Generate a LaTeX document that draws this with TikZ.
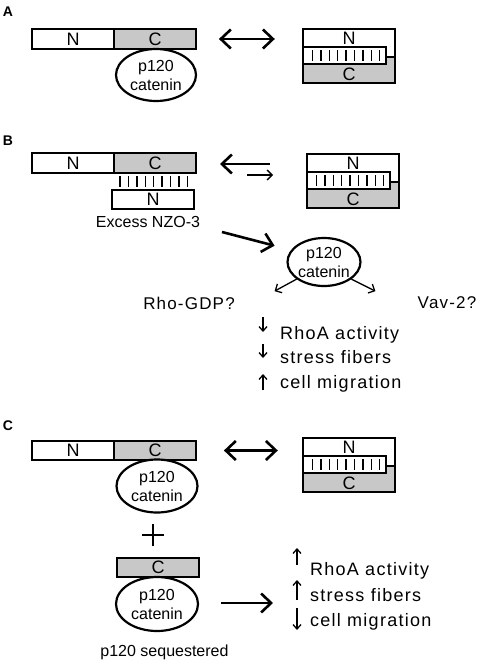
\documentclass[tikz,border=0pt]{standalone}
\usepackage{fontspec}
\setmainfont{Liberation Sans}
\newfontfamily\spaced[LetterSpace=7]{Liberation Sans}
\usetikzlibrary{arrows.meta,shapes.geometric}
\definecolor{cgray}{RGB}{200,200,200}
\newcommand\hairpin[3]{%
\begin{scope}[shift={(#1,#2)}]
 \fill[cgray] (0,35) -- (83,35) -- (83,28) -- (92,28) -- (92,54) -- (0,54) -- cycle;
 \draw[outl] (0,0) rectangle (92,54);
 \draw[outl] (0,18) rectangle (83,35);
 \draw[outl] (83,28) -- (92,28);
 \foreach \i in {0,...,8} \draw[hatch] (9.5+8.4*\i,21) -- ++(0,11);
 \node[lbl] at (46,9) {N};
 \node[lbl] at (46,45) {C};
 \node[inner sep=0pt, minimum width=92pt, minimum height=54pt] (#3) at (46,27) {};
\end{scope}}
\begin{document}
\begin{tikzpicture}[x=1pt,y=-1pt,
  outl/.style={line width=1.8pt},
  hatch/.style={line width=1.4pt},
  lbl/.style={inner sep=0pt, font=\fontsize{18}{18}\selectfont},
  box/.style={draw, line width=1.8pt, inner sep=0pt, minimum height=20pt, font=\fontsize{18}{18}\selectfont},
  wbox/.style={box, fill=white},
  gbox/.style={box, fill=cgray},
  catenin/.style={draw, ellipse, line width=2.2pt, inner sep=0pt, align=center, fill=white, font=\fontsize{16}{19}\selectfont},
  panel/.style={inner sep=0pt, font=\bfseries\fontsize{14}{14}\selectfont},
  txt/.style={inner sep=0pt, font=\fontsize{16}{19}\selectfont},
  eff/.style={inner sep=0pt, anchor=base west, font=\spaced\fontsize{18}{24}\selectfont},
  head/.style={Straight Barb[length=10pt,width=19pt,line width=2.6pt]},
  big/.style={line width=2.6pt, -{Straight Barb[length=10pt,width=19pt,line width=2.6pt]}},
  dbl/.style={line width=2.6pt, {Straight Barb[length=10pt,width=19pt,line width=2.6pt]}-{Straight Barb[length=10pt,width=19pt,line width=2.6pt]}},
  thin/.style={line width=1.3pt, -{Straight Barb[length=5pt,width=10pt,line width=1.3pt]}},
  tarr/.style={line width=1.3pt, -{Straight Barb[length=4.5pt,width=8pt,line width=1.3pt]}},
]
\useasboundingbox[fill=white] (0,0) rectangle (484,664);

% ---------- Panel A ----------
\node[panel] (labA) at (8,12) {A};
\node[wbox, minimum width=82pt] (aN) at (73,39) {N};
\node[gbox, minimum width=82pt] (aC) at (155,39) {C};
\node[catenin, minimum width=80pt, minimum height=52pt] (aP) at (156,75) {p120\\catenin};
\hairpin{303}{29}{hpA}
\draw[dbl, shorten <=22pt, shorten >=28pt] (aC.east) -- (aC.east -| hpA.west);

% ---------- Panel B ----------
\node[panel] (labB) at (8,141) {B};
\node[wbox, minimum width=82pt] (bN) at (73,163) {N};
\node[gbox, minimum width=82pt] (bC) at (155,163) {C};
\foreach \i in {0,...,8} \draw[hatch] (120+8.4*\i,176) -- ++(0,11);
\node[wbox, minimum width=82pt, minimum height=19pt] (bN2) at (153,199.5) {N};
\node[txt] (excess) at (148,222) {Excess NZO-3};
\hairpin{307}{154}{hpB}
\coordinate (bl1) at (270,164);
\coordinate (bl2) at (220,164);
\draw[big] (bl1) -- (bl2);
\coordinate (br1) at (247,175);
\coordinate (br2) at (273,175);
\draw[thin] (br1) -- (br2);
\node[catenin, minimum width=72pt, minimum height=48pt] (bP) at (324,262) {p120\\catenin};
\coordinate (dg) at (222,232);
\draw[big, shorten >=17pt] (dg) -- (bP.160);
\node[txt, font=\spaced\fontsize{17}{19}\selectfont] (rho) at (189,303) {Rho-GDP?};
\node[txt, font=\spaced\fontsize{17}{19}\selectfont] (vav) at (447,303) {Vav-2?};
\draw[thin] (bP.212) -- ++(-22,12);
\draw[thin] (bP.-32) -- ++(24,12);
\node[eff] (b1) at (280,339) {RhoA activity};
\node[eff] (b2) at (280,363) {stress fibers};
\node[eff] (b3) at (280,388) {cell migration};
\draw[tarr] (263,317) -- (263,332);
\draw[tarr] (263,344) -- (263,358);
\draw[tarr] (263,390) -- (263,374);

% ---------- Panel C ----------
\node[panel] (labC) at (8,426) {C};
\node[wbox, minimum width=82pt, minimum height=19pt] (cN) at (73,450.5) {N};
\node[gbox, minimum width=82pt, minimum height=19pt] (cC) at (155,450.5) {C};
\node[catenin, minimum width=81pt, minimum height=53pt] (cP) at (157,486) {p120\\catenin};
\hairpin{303}{438}{hpC}
\draw[dbl, shorten <=27pt, shorten >=25pt] (cC.east) -- (cC.east -| hpC.west);
\coordinate (plus) at (153,535);
\draw[line width=2.5pt] ([xshift=-11pt]plus) -- ([xshift=11pt]plus);
\draw[line width=2.5pt] ([yshift=-11pt]plus) -- ([yshift=11pt]plus);
\node[gbox, minimum width=82pt, minimum height=19pt] (cC2) at (158,567.5) {C};
\node[catenin, minimum width=82pt, minimum height=54pt] (cP2) at (157,604) {p120\\catenin};
\node[txt] (seq) at (164.5,652) {p120 sequestered};
\node[eff] (c1) at (310,575) {RhoA activity};
\node[eff] (c2) at (310,601) {stress fibers};
\node[eff] (c3) at (310,626) {cell migration};
\draw[big, line width=2.2pt, shorten <=22pt, shorten >=37pt] (cP2.east |- 0,603) -- (c2.west |- 0,603);
\draw[tarr] (297,565) -- (297,548);
\draw[tarr] (297,600) -- (297,580);
\draw[tarr] (297,608) -- (297,630);
\end{tikzpicture}
\end{document}
